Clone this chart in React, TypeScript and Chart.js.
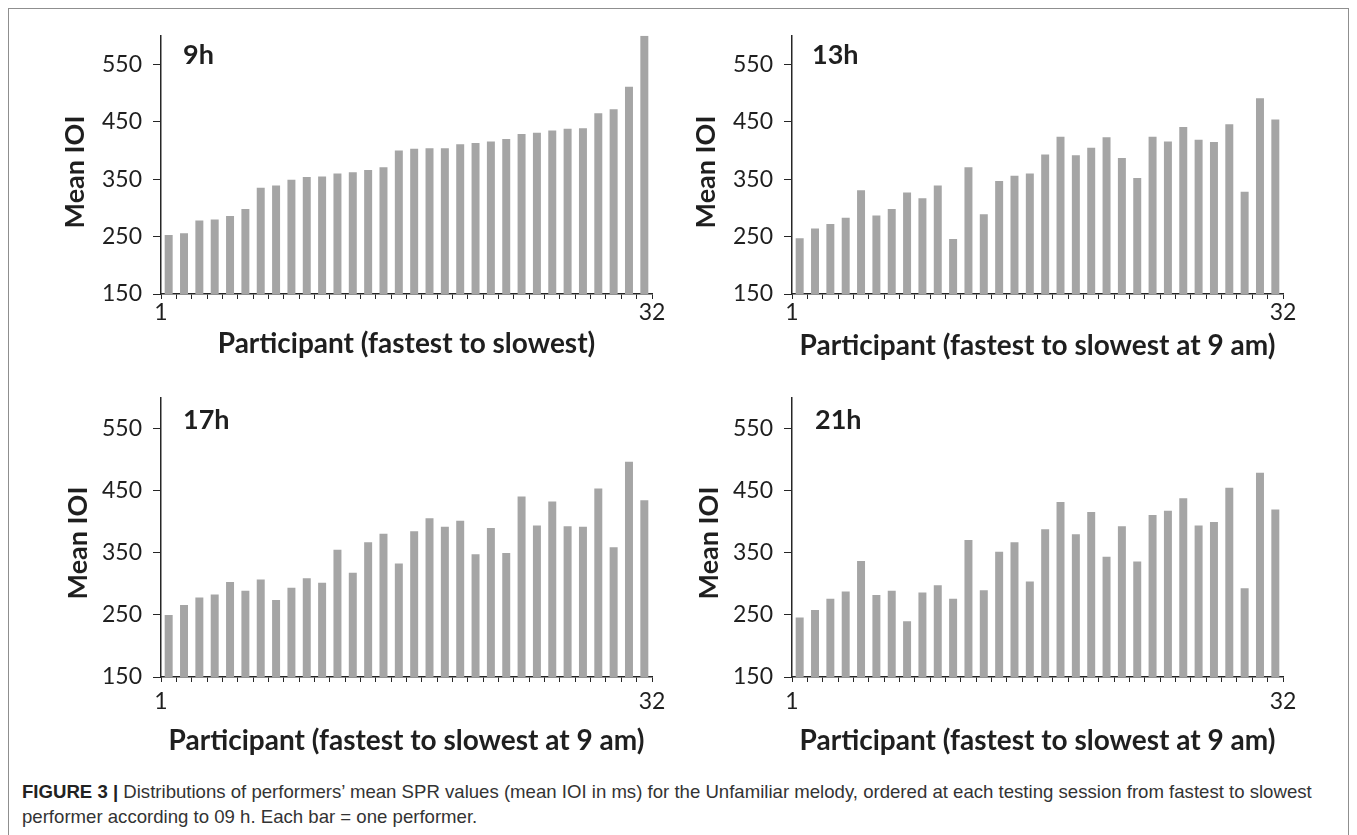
import React, { useEffect, useRef } from 'react';
import { Chart, registerables } from 'chart.js';

Chart.register(...registerables);

// ---------------- data ----------------
const PARTICIPANTS = [1, 2, 3, 4, 5, 6, 7, 8, 9, 10, 11, 12, 13, 14, 15, 16, 17, 18, 19, 20, 21, 22, 23, 24, 25, 26, 27, 28, 29, 30, 31, 32];

const IOI_09H = [253, 256, 278, 280, 286, 298, 335, 339, 349, 354, 355, 360, 362, 366, 371, 400, 403, 404, 404, 411, 413, 416, 420, 429, 431, 435, 438, 439, 465, 472, 511, 600];
const IOI_13H = [247, 264, 272, 283, 331, 287, 298, 327, 317, 339, 246, 371, 289, 347, 356, 360, 393, 424, 392, 405, 423, 387, 352, 424, 416, 441, 419, 415, 446, 328, 491, 454];
const IOI_17H = [250, 266, 278, 283, 303, 289, 307, 274, 294, 309, 302, 355, 318, 367, 381, 333, 385, 406, 392, 402, 348, 390, 350, 441, 394, 433, 393, 392, 454, 359, 497, 435];
const IOI_21H = [246, 258, 276, 288, 337, 282, 289, 240, 286, 298, 276, 371, 290, 352, 367, 304, 388, 432, 380, 416, 344, 393, 336, 411, 418, 438, 394, 400, 455, 293, 479, 420];

const Y_TICKS = [150, 250, 350, 450, 550];
const Y_MIN = 150;
const Y_MAX = 600;

const SESSION_LABELS = ['9h', '13h', '17h', '21h'];
const Y_TITLE = 'Mean IOI';
const X_TITLE_FIRST = 'Participant (fastest to slowest)';
const X_TITLE_OTHER = 'Participant (fastest to slowest at 9 am)';

const CAPTION_BOLD = 'FIGURE 3 |';
const CAPTION_LINE1 = ' Distributions of performers\u2019 mean SPR values (mean IOI in ms) for the Unfamiliar melody, ordered at each testing session from fastest to slowest';
const CAPTION_LINE2 = 'performer according to 09 h. Each bar = one performer.';

// ---------------- styles / layout ----------------
const BAR_COLOR = '#a5a5a5';
const AXIS_COLOR = '#262626';
const TEXT_COLOR = '#1f1f1f';
const FONT = 'Lato, "Open Sans", sans-serif';

const Y_AXIS_W = 121;
const PAD_TOP = 16;
const PAD_RIGHT = 24;
const X_TICK_LEN = 5;
const TICK_FONT = 23;
const TITLE_FONT = 28;

const X_BOUNDS = [...PARTICIPANTS.map((p) => p - 0.5), PARTICIPANTS[PARTICIPANTS.length - 1] + 0.5];

type PanelCfg = {
  values: number[];
  label: string;
  xTitle: string;
  area: { l: number; t: number; r: number; b: number };
  tickY: number;
  xTitleY: number;
  yTitleX: number;
  yTitleY: number;
  labelDx: number;
};

const PANELS: PanelCfg[] = [
  { values: IOI_09H, label: SESSION_LABELS[0], xTitle: X_TITLE_FIRST, area: { l: 161, t: 27, r: 652, b: 294 }, tickY: 313, xTitleY: 344, yTitleX: 75, yTitleY: 172, labelDx: 22 },
  { values: IOI_13H, label: SESSION_LABELS[1], xTitle: X_TITLE_OTHER, area: { l: 792, t: 27, r: 1283, b: 294 }, tickY: 313, xTitleY: 346, yTitleX: 706, yTitleY: 172, labelDx: 20 },
  { values: IOI_17H, label: SESSION_LABELS[2], xTitle: X_TITLE_OTHER, area: { l: 161, t: 389, r: 652, b: 677 }, tickY: 702, xTitleY: 741, yTitleX: 78, yTitleY: 543, labelDx: 22 },
  { values: IOI_21H, label: SESSION_LABELS[3], xTitle: X_TITLE_OTHER, area: { l: 792, t: 389, r: 1283, b: 677 }, tickY: 702, xTitleY: 741, yTitleX: 709, yTitleY: 543, labelDx: 23 },
];

const panelTextPlugin = {
  id: 'panelText',
  afterDraw(chart: any, _args: any, opts: any) {
    const { ctx, chartArea, scales } = chart;
    ctx.save();
    ctx.fillStyle = TEXT_COLOR;
    ctx.font = `bold 27px ${FONT}`;
    ctx.textAlign = 'left';
    ctx.textBaseline = 'alphabetic';
    ctx.fillText(opts.label, chartArea.left + opts.labelDx, scales.y.getPixelForValue(Y_TICKS[Y_TICKS.length - 1]));
    ctx.translate(opts.yTitleX, opts.yTitleY);
    ctx.rotate(-Math.PI / 2);
    ctx.textAlign = 'center';
    ctx.textBaseline = 'middle';
    ctx.font = `bold 27px ${FONT}`;
    ctx.fillText(Y_TITLE, 0, 0);
    ctx.restore();
  },
};

function Panel({ cfg }: { cfg: PanelCfg }) {
  const ref = useRef<HTMLCanvasElement>(null);
  const left = cfg.area.l - Y_AXIS_W;
  const top = cfg.area.t - PAD_TOP;
  const width = Y_AXIS_W + (cfg.area.r - cfg.area.l) + PAD_RIGHT;
  const bottom = cfg.xTitleY + TITLE_FONT / 2;
  const height = bottom - top;
  const xAxisH = bottom - cfg.area.b;
  const tickPad = cfg.tickY - cfg.area.b - X_TICK_LEN - (TICK_FONT * 1.2) / 2;

  useEffect(() => {
    const canvas = ref.current!;
    const chart = new Chart(canvas, {
      type: 'bar',
      data: {
        labels: PARTICIPANTS,
        datasets: [
          {
            data: cfg.values,
            backgroundColor: BAR_COLOR,
            borderWidth: 0,
            barPercentage: 0.52,
            categoryPercentage: 1,
          },
        ],
      },
      options: {
        responsive: false,
        animation: false,
        devicePixelRatio: 1,
        layout: { padding: { top: PAD_TOP, right: PAD_RIGHT, left: 0, bottom: 0 } },
        plugins: {
          legend: { display: false },
          tooltip: { enabled: false },
          panelText: {
            label: cfg.label,
            labelDx: cfg.labelDx,
            yTitleX: cfg.yTitleX - left,
            yTitleY: cfg.yTitleY - top,
          },
        } as any,
        scales: {
          x: {
            type: 'linear',
            min: X_BOUNDS[0],
            max: X_BOUNDS[X_BOUNDS.length - 1],
            offset: false,
            grid: { offset: false, drawOnChartArea: false, drawTicks: true, tickLength: X_TICK_LEN, color: AXIS_COLOR, lineWidth: 1 },
            border: { display: true, color: AXIS_COLOR, width: 1.5 },
            afterBuildTicks: (s: any) => {
              s.ticks = X_BOUNDS.map((v) => ({ value: v }));
            },
            afterFit: (s: any) => {
              s.height = xAxisH;
            },
            ticks: {
              autoSkip: false,
              maxRotation: 0,
              minRotation: 0,
              padding: tickPad,
              color: TEXT_COLOR,
              font: { family: FONT, size: TICK_FONT },
              callback: (_v: any, i: number) =>
                i === 0 ? String(PARTICIPANTS[0]) : i === X_BOUNDS.length - 1 ? String(PARTICIPANTS[PARTICIPANTS.length - 1]) : '',
            },
            title: {
              display: true,
              text: cfg.xTitle,
              color: TEXT_COLOR,
              font: { family: FONT, size: TITLE_FONT, weight: 'bold', lineHeight: 1 },
              padding: { top: 0, bottom: 0 },
            },
          } as any,
          y: {
            min: Y_MIN,
            max: Y_MAX,
            grid: { drawOnChartArea: false, drawTicks: true, tickLength: 8, color: AXIS_COLOR, lineWidth: 1 },
            border: { display: true, color: AXIS_COLOR, width: 1.5 },
            afterBuildTicks: (s: any) => {
              s.ticks = Y_TICKS.map((v) => ({ value: v }));
            },
            afterFit: (s: any) => {
              s.width = Y_AXIS_W;
            },
            ticks: {
              padding: 11,
              color: TEXT_COLOR,
              font: { family: FONT, size: TICK_FONT },
            },
          } as any,
        },
      },
      plugins: [panelTextPlugin],
    });
    return () => chart.destroy();
  }, []);

  return (
    <canvas
      ref={ref}
      width={width}
      height={height}
      style={{ position: 'absolute', left, top, width, height }}
    />
  );
}

export default function App() {
  return (
    <div style={{ position: 'absolute', left: 0, top: 0, width: 1357, height: 835, background: '#fff', overflow: 'hidden' }}>
      <div
        style={{
          position: 'absolute',
          left: 8,
          top: 8,
          width: 1341,
          height: 840,
          border: '1px solid #8f8f8f',
          boxSizing: 'border-box',
        }}
      />
      {PANELS.map((p) => (
        <Panel key={p.label} cfg={p} />
      ))}
      <div
        style={{
          position: 'absolute',
          left: 22,
          top: 779,
          fontFamily: '"Liberation Sans", Arial, sans-serif',
          fontSize: 18.6,
          lineHeight: '25px',
          color: '#333',
          whiteSpace: 'nowrap',
        }}
      >
        <span style={{ fontWeight: 'bold', color: '#222' }}>{CAPTION_BOLD}</span>
        {CAPTION_LINE1}
        <br />
        {CAPTION_LINE2}
      </div>
    </div>
  );
}
